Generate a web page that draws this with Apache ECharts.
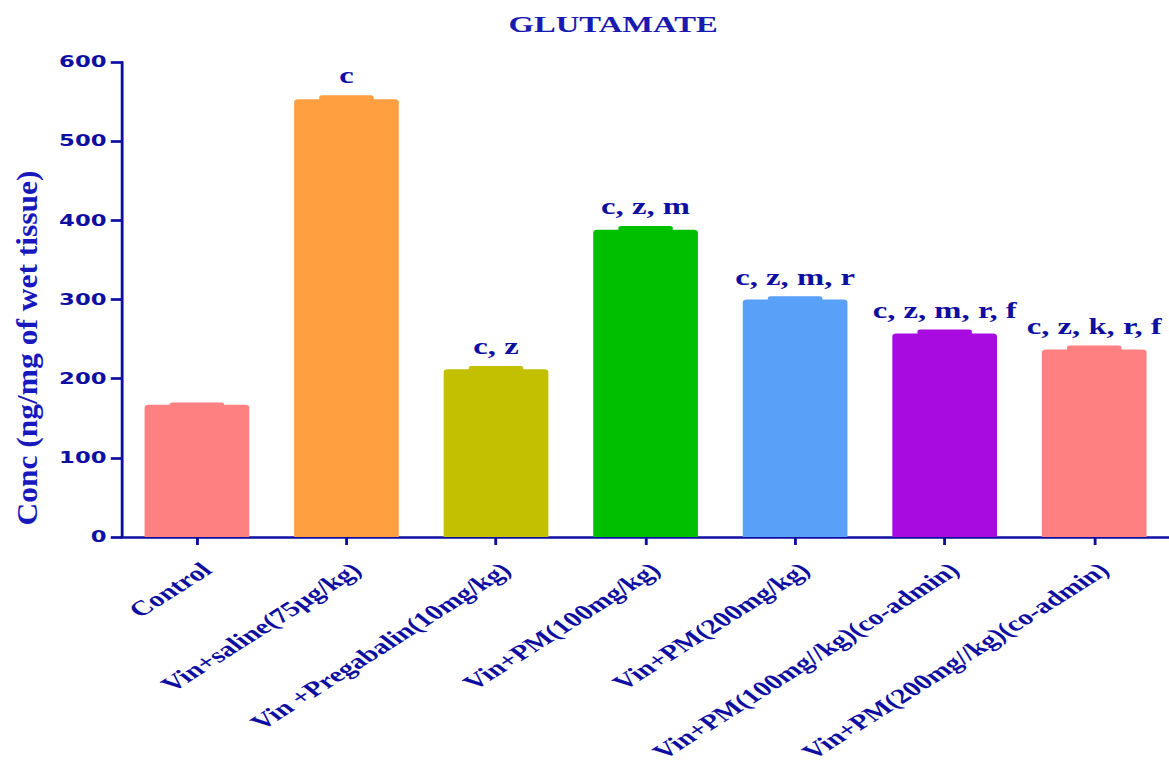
<!DOCTYPE html>
<html>
<head>
<meta charset="utf-8">
<title>Glutamate</title>
<script src="https://cdn.jsdelivr.net/npm/echarts@6/dist/echarts.min.js"></script>
<style>
  html, body { margin: 0; padding: 0; background: #ffffff; overflow: hidden; }
  /* The figure is drawn narrow and widened horizontally, like the original export */
  #chart {
    width: 823px;
    height: 773px;
    transform: scaleX(1.4204);
    transform-origin: 0 0;
  }
</style>
</head>
<body>
<div id="chart"></div>
<script>
// Group names along the x axis
const categories = [
  'Control',
  'Vin+saline(75µg/kg)',
  'Vin +Pregabalin(10mg/kg)',
  'Vin+PM(100mg/kg)',
  'Vin+PM(200mg/kg)',
  'Vin+PM(100mg//kg)(co-admin)',
  'Vin+PM(200mg//kg)(co-admin)'
];
// Mean glutamate concentration (ng/mg of wet tissue)
const means = [167, 553, 212, 388, 300, 257, 237];
// Standard error of each mean
const errors = [3, 5, 4, 5, 4, 5, 5];
// Significance letters printed above each bar
const letters = ['', 'c', 'c, z', 'c, z, m', 'c, z, m, r', 'c, z, m, r, f', 'c, z, k, r, f'];
// Y axis ticks
const yTicks = [0, 100, 200, 300, 400, 500, 600];

const palette = ['#ff8080', '#ff9f40', '#c2c000', '#00bf00', '#58a0f8', '#a80be0', '#ff8080'];
const navy = '#0e0ea0';

const chart = echarts.init(document.getElementById('chart'), null, { renderer: 'svg' });

const barWidthRatio = 0.7;

chart.setOption({
  animation: false,
  backgroundColor: '#ffffff',
  title: {
    text: 'GLUTAMATE',
    left: 353,
    top: 8,
    textStyle: {
      fontFamily: 'Liberation Serif',
      fontWeight: 'bold',
      fontSize: 23,
      color: '#1a1ab0'
    }
  },
  graphic: [{
    type: 'text',
    x: 19,
    y: 348,
    rotation: Math.PI / 2,
    scaleX: 1.5,
    style: {
      text: 'Conc (ng/mg of wet tissue)',
      font: 'bold 21px "Liberation Serif"',
      fill: '#1818bc',
      align: 'center',
      verticalAlign: 'middle'
    }
  }],
  grid: {
    left: 86, right: 0, top: 62, bottom: 236,
    containLabel: false,
    outerBoundsMode: 'none'
  },
  xAxis: {
    type: 'category',
    data: categories,
    boundaryGap: true,
    axisLine: { show: true, lineStyle: { color: navy, width: 2.7 } },
    axisTick: { show: true, alignWithLabel: true, length: 8, lineStyle: { color: navy, width: 2 } },
    axisLabel: {
      interval: 0,
      rotate: 42,
      margin: 22,
      align: 'right',
      verticalAlign: 'top',
      color: navy,
      fontFamily: 'Liberation Serif',
      fontWeight: 'bold',
      fontSize: 21
    },
    splitLine: { show: false }
  },
  yAxis: {
    type: 'value',
    min: yTicks[0],
    max: yTicks[yTicks.length - 1],
    interval: yTicks[1] - yTicks[0],
    axisLine: { show: true, lineStyle: { color: navy, width: 2 } },
    axisTick: { show: true, length: 8, lineStyle: { color: navy, width: 2.7 } },
    axisLabel: {
      margin: 11,
      color: navy,
      fontFamily: 'DejaVu Sans',
      fontWeight: 'bold',
      fontSize: 16
    },
    splitLine: { show: false }
  },
  series: [
    {
      type: 'bar',
      barWidth: (barWidthRatio * 100) + '%',
      data: means.map((v, i) => ({
        value: v,
        itemStyle: { color: palette[i], borderRadius: [3, 3, 0, 0] }
      })),
      z: 2
    },
    {
      // error caps and significance letters
      type: 'custom',
      z: 3,
      data: means.map((v, i) => [i, v, errors[i]]),
      renderItem: function (params, api) {
        const idx = api.value(0);
        const mean = api.value(1);
        const err = api.value(2);
        const top = api.coord([idx, mean + err]);
        const base = api.coord([idx, mean]);
        const band = api.size([1, 0])[0];
        const capW = band * barWidthRatio * 0.52;
        const color = palette[params.dataIndex];
        return {
          type: 'group',
          children: [
            {
              type: 'rect',
              shape: {
                x: top[0] - capW / 2,
                y: top[1],
                width: capW,
                height: base[1] - top[1] + 1,
                r: [2, 2, 0, 0]
              },
              style: { fill: color }
            },
            {
              type: 'text',
              x: top[0],
              y: top[1] - 8,
              style: {
                text: letters[params.dataIndex],
                fill: navy,
                font: 'bold 23px "Liberation Serif"',
                align: 'center',
                verticalAlign: 'bottom'
              }
            }
          ]
        };
      }
    }
  ]
});
</script>
</body>
</html>
